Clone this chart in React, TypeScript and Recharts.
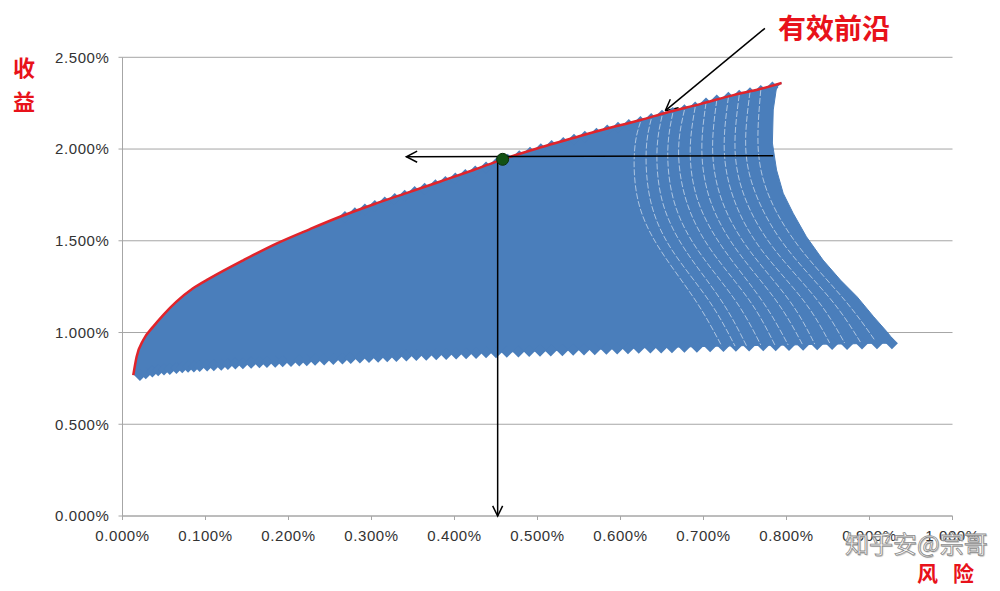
import React from 'react';
import {
  ScatterChart, Scatter, XAxis, YAxis, CartesianGrid, ReferenceLine, ReferenceDot,
} from 'recharts';

const BLUE = '#4A7EBB';
const RED = '#E0242B';
const GRID = '#A6A6A6';

const xTicks = [0, 0.1, 0.2, 0.3, 0.4, 0.5, 0.6, 0.7, 0.8, 0.9, 1.0];
const yTicks = [0, 0.5, 1.0, 1.5, 2.0, 2.5];

// efficient frontier (risk %, return %)
const frontier = [
  { x: 0.013, y: 0.768 }, { x: 0.017, y: 0.868 }, { x: 0.025, y: 0.959 }, { x: 0.037, y: 1.032 },
  { x: 0.049, y: 1.095 }, { x: 0.065, y: 1.168 }, { x: 0.085, y: 1.241 }, { x: 0.105, y: 1.295 },
  { x: 0.146, y: 1.395 }, { x: 0.186, y: 1.486 }, { x: 0.226, y: 1.564 }, { x: 0.262, y: 1.631 },
  { x: 0.302, y: 1.698 }, { x: 0.342, y: 1.760 }, { x: 0.383, y: 1.823 }, { x: 0.423, y: 1.886 },
  { x: 0.458, y: 1.944 }, { x: 0.503, y: 2.008 }, { x: 0.543, y: 2.060 }, { x: 0.575, y: 2.101 },
  { x: 0.624, y: 2.158 }, { x: 0.656, y: 2.199 }, { x: 0.696, y: 2.245 }, { x: 0.736, y: 2.294 },
  { x: 0.768, y: 2.327 }, { x: 0.794, y: 2.360 },
];

// right edge of the portfolio cloud, top to bottom
const rightEdge = [
  { x: 0.788, y: 2.336 }, { x: 0.784, y: 2.213 }, { x: 0.783, y: 2.033 }, { x: 0.788, y: 1.886 },
  { x: 0.796, y: 1.759 }, { x: 0.808, y: 1.650 }, { x: 0.824, y: 1.522 }, { x: 0.844, y: 1.395 },
  { x: 0.865, y: 1.286 }, { x: 0.885, y: 1.195 }, { x: 0.905, y: 1.086 }, { x: 0.921, y: 1.004 },
  { x: 0.929, y: 0.959 },
];

// lowest portfolio of each curve (saw-tooth along the bottom)
const bottomRisk = [
  0.021, 0.028, 0.036, 0.043, 0.050, 0.057, 0.065, 0.072, 0.079, 0.086, 0.093, 0.102, 0.110,
  0.119, 0.127, 0.136, 0.145, 0.155, 0.165, 0.174, 0.184, 0.193, 0.203, 0.213, 0.222, 0.232,
  0.243, 0.254, 0.265, 0.275, 0.286, 0.297, 0.308, 0.319, 0.330, 0.342, 0.354, 0.366, 0.378,
  0.390, 0.402, 0.414, 0.426, 0.438, 0.450, 0.463, 0.477, 0.490, 0.503, 0.516, 0.530, 0.543,
  0.556, 0.569, 0.583, 0.596, 0.609, 0.622, 0.636, 0.649, 0.662, 0.677, 0.692, 0.708, 0.724,
  0.739, 0.755, 0.772, 0.787, 0.803, 0.820, 0.837, 0.855, 0.873, 0.891, 0.909, 0.927,
];
const bottomReturn = [
  0.768, 0.778, 0.788, 0.795, 0.798, 0.801, 0.807, 0.811, 0.813, 0.815, 0.817, 0.820, 0.822,
  0.825, 0.828, 0.831, 0.833, 0.835, 0.838, 0.839, 0.841, 0.843, 0.845, 0.847, 0.849, 0.851,
  0.853, 0.856, 0.858, 0.861, 0.864, 0.866, 0.868, 0.870, 0.872, 0.875, 0.877, 0.879, 0.881,
  0.883, 0.886, 0.887, 0.889, 0.892, 0.893, 0.895, 0.896, 0.899, 0.900, 0.902, 0.904, 0.906,
  0.907, 0.909, 0.911, 0.913, 0.914, 0.917, 0.918, 0.919, 0.920, 0.922, 0.923, 0.925, 0.926,
  0.928, 0.929, 0.930, 0.931, 0.932, 0.934, 0.936, 0.937, 0.938, 0.940, 0.942, 0.941,
];

// top portfolio of each curve, poking out above the frontier line
const topRisk = [
  0.268, 0.280, 0.292, 0.304, 0.316, 0.328, 0.340, 0.352, 0.364, 0.377, 0.389, 0.401, 0.413,
  0.425, 0.438, 0.451, 0.464, 0.478, 0.491, 0.504, 0.517, 0.531, 0.544, 0.557, 0.571, 0.584,
  0.597, 0.610, 0.624, 0.637, 0.650, 0.663, 0.677, 0.690, 0.703, 0.716, 0.730, 0.743, 0.756,
  0.769, 0.783,
];
const topReturn = [
  1.630, 1.650, 1.670, 1.690, 1.709, 1.728, 1.746, 1.766, 1.784, 1.803, 1.821, 1.840, 1.859,
  1.878, 1.900, 1.922, 1.942, 1.961, 1.980, 1.999, 2.016, 2.033, 2.050, 2.067, 2.084, 2.101,
  2.116, 2.131, 2.147, 2.164, 2.181, 2.197, 2.212, 2.227, 2.248, 2.264, 2.280, 2.291, 2.304,
  2.317, 2.335,
];

// light seams between neighbouring curves on the right of the cloud
const seamRisk = [
  [0.769, 0.766, 0.781, 0.818, 0.870, 0.907],
  [0.756, 0.751, 0.766, 0.802, 0.854, 0.889],
  [0.743, 0.738, 0.751, 0.786, 0.837, 0.870],
  [0.730, 0.725, 0.737, 0.770, 0.820, 0.852],
  [0.716, 0.711, 0.722, 0.755, 0.803, 0.834],
  [0.703, 0.698, 0.708, 0.740, 0.787, 0.819],
  [0.690, 0.684, 0.693, 0.725, 0.770, 0.802],
  [0.677, 0.670, 0.679, 0.709, 0.755, 0.786],
  [0.663, 0.657, 0.664, 0.693, 0.738, 0.769],
  [0.650, 0.644, 0.650, 0.678, 0.721, 0.752],
  [0.637, 0.631, 0.636, 0.662, 0.706, 0.738],
  [0.624, 0.617, 0.621, 0.648, 0.690, 0.722],
];
const seamReturn = [
  [2.322, 1.995, 1.722, 1.450, 1.177, 0.954],
  [2.311, 1.995, 1.722, 1.450, 1.177, 0.948],
  [2.294, 1.995, 1.722, 1.450, 1.177, 0.943],
  [2.283, 1.995, 1.722, 1.450, 1.177, 0.943],
  [2.267, 1.995, 1.722, 1.450, 1.177, 0.937],
  [2.251, 1.995, 1.722, 1.450, 1.177, 0.937],
  [2.229, 1.995, 1.722, 1.450, 1.177, 0.932],
  [2.213, 1.995, 1.722, 1.450, 1.177, 0.932],
  [2.196, 1.995, 1.722, 1.450, 1.177, 0.932],
  [2.180, 1.995, 1.722, 1.450, 1.177, 0.926],
  [2.163, 1.995, 1.722, 1.450, 1.177, 0.926],
  [2.147, 1.995, 1.722, 1.450, 1.177, 0.926],
];

const bottomPts = bottomRisk.map((x, i) => ({ x, y: bottomReturn[i] }));
const topPts = topRisk.map((x, i) => ({ x, y: topReturn[i] }));
const seams = seamRisk.map((xs, k) => xs.map((x, i) => ({ x, y: seamReturn[k][i] })));
const cloud = [...frontier, ...rightEdge, ...[...bottomPts].reverse()];

// arrows drawn inside the plot: shaft and head as polylines
const arrowPaths = [
  [{ x: 0.784, y: 1.963 }, { x: 0.342, y: 1.958 }],
  [{ x: 0.355, y: 1.989 }, { x: 0.342, y: 1.958 }, { x: 0.355, y: 1.928 }],
  [{ x: 0.452, y: 1.958 }, { x: 0.452, y: 0 }],
  [{ x: 0.446, y: 0.055 }, { x: 0.452, y: 0 }, { x: 0.458, y: 0.055 }],
];
// arrow pointing at the frontier from the title (starts above the plot)
const titleArrow = [
  [0.774, 2.658, 0.654, 2.209], [0.654, 2.209, 0.660, 2.271], [0.654, 2.209, 0.670, 2.225],
];
const picked = { x: 0.458, y: 1.944 };

const NoDot = () => null;
const Diamond = (p: any) => {
  const { cx, cy } = p;
  if (cx == null || cy == null) return null;
  return <path d={`M${cx},${cy - 6}L${cx + 6},${cy}L${cx},${cy + 6}L${cx - 6},${cy}Z`} fill={BLUE} />;
};

const tickStyle = { fill: '#333', fontSize: 15, fontFamily: 'Liberation Sans, Arial, sans-serif', letterSpacing: 0.6 };
const cjk = '"Noto Sans CJK SC", sans-serif';
const redLabel = { position: 'absolute' as const, fontWeight: 700, color: '#E8121A', fontFamily: cjk };

export default function App() {
  return (
    <div style={{ position: 'absolute', left: 0, top: 0, width: 1000, height: 591, background: '#fff' }}>
      <ScatterChart width={1000} height={591} margin={{ top: 57.3, right: 47.5, bottom: 45, left: 0 }}>
        <CartesianGrid vertical={false} stroke={GRID} />
        <XAxis
          type="number" dataKey="x" domain={[0, 1]} ticks={xTicks} interval={0}
          tickFormatter={(v: number) => `${v.toFixed(3)}%`}
          stroke={GRID} tickSize={4} tickMargin={10} height={30} tick={tickStyle}
        />
        <YAxis
          type="number" dataKey="y" domain={[0, 2.5]} ticks={yTicks} interval={0}
          tickFormatter={(v: number) => `${v.toFixed(3)}%`}
          stroke={GRID} tickSize={4} tickMargin={9} width={122.5} tick={tickStyle}
        />
        {titleArrow.map((a, i) => (
          <ReferenceLine
            key={`t${i}`}
            segment={[{ x: a[0], y: a[1] }, { x: a[2], y: a[3] }]}
            stroke="#000" strokeWidth={1.5} ifOverflow="visible"
          />
        ))}
        <Scatter data={cloud} line={{ fill: BLUE, stroke: BLUE, strokeWidth: 1 }} shape={NoDot} isAnimationActive={false} />
        <Scatter data={bottomPts} shape={Diamond} isAnimationActive={false} />
        <Scatter data={topPts} shape={Diamond} isAnimationActive={false} />
        {seams.map((s, i) => (
          <Scatter
            key={`s${i}`} data={s} shape={NoDot} lineJointType="natural" isAnimationActive={false}
            line={{ stroke: '#FFFFFF', strokeWidth: 1, strokeOpacity: 0.55, strokeDasharray: '6 2' }}
          />
        ))}
        <Scatter data={frontier} line={{ stroke: RED, strokeWidth: 2.5 }} lineJointType="monotoneX" shape={NoDot} isAnimationActive={false} />
        {arrowPaths.map((p, i) => (
          <Scatter key={`a${i}`} data={p} line={{ stroke: '#000', strokeWidth: 1.5 }} shape={NoDot} isAnimationActive={false} />
        ))}
        <ReferenceDot x={picked.x} y={picked.y} r={6} fill="#135214" stroke="#0B300B" strokeWidth={1} ifOverflow="visible" />
      </ScatterChart>

      <div style={{ ...redLabel, left: 778, top: 12.5, fontSize: 28, lineHeight: '28px' }}>有效前沿</div>
      <div style={{ ...redLabel, left: 13, top: 55, fontSize: 22, lineHeight: '22px' }}>收</div>
      <div style={{ ...redLabel, left: 13, top: 89, fontSize: 22, lineHeight: '22px' }}>益</div>
      <div style={{ ...redLabel, left: 917, top: 562, fontSize: 21, lineHeight: '21px' }}>风</div>
      <div style={{ ...redLabel, left: 953, top: 562, fontSize: 21, lineHeight: '21px' }}>险</div>
      <div style={{
        position: 'absolute', left: 845, top: 531, fontSize: 24, lineHeight: '24px', color: '#fff',
        fontFamily: cjk, WebkitTextStroke: '0.8px #8a8a8a', textShadow: '1px 1px 1px #bbb', whiteSpace: 'nowrap',
      }}>
        知乎安@宗哥
      </div>
    </div>
  );
}
